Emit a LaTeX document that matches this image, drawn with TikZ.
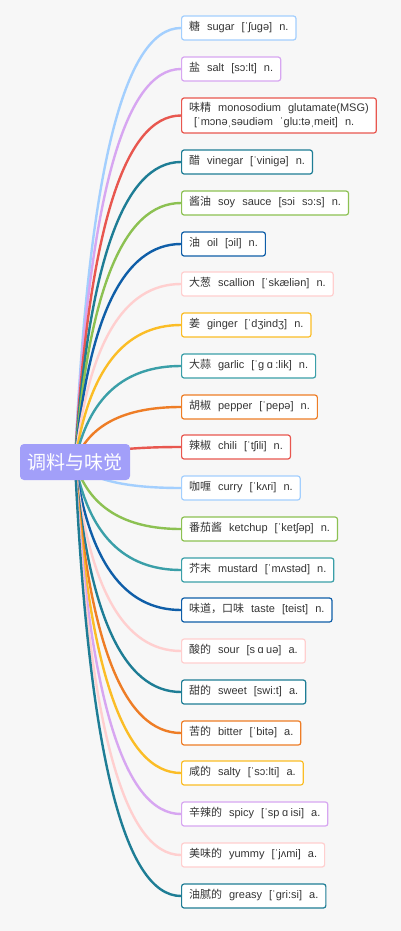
\documentclass[tikz,border=0pt]{standalone}
\usepackage{fontspec}
\setmainfont[WordSpace=2.3]{Liberation Sans}
\newfontfamily\cjk{Noto Sans CJK SC}
\usetikzlibrary{backgrounds}
\definecolor{bg}{HTML}{F7F7F7}
\definecolor{txt}{HTML}{353535}
\definecolor{rootc}{HTML}{A29FF9}
\definecolor{LB}{HTML}{A3CFFE}
\definecolor{LV}{HTML}{D7A6F1}
\definecolor{RD}{HTML}{E8574F}
\definecolor{DT}{HTML}{1E7D95}
\definecolor{GR}{HTML}{8CC152}
\definecolor{DB}{HTML}{0F5EA8}
\definecolor{PK}{HTML}{FFCFCF}
\definecolor{YL}{HTML}{FBBD26}
\definecolor{TL}{HTML}{3A9FA8}
\definecolor{OR}{HTML}{EE7D26}
\newcommand\zh[1]{{\cjk #1}}
\newcommand\gA{\hspace{2.5pt}ɑ\hspace{2.5pt}}
\tikzset{
  leaf/.style={draw=#1, fill=white, line width=1.2pt, rounded corners=2.5pt,
    anchor=west, inner xsep=7.5pt, inner ysep=0pt, minimum height=24pt,
    text height=8pt, text depth=2.5pt, font=\fontsize{11}{14}\selectfont, text=txt},
  leaftwo/.style={leaf=#1, text height=, text depth=, align=left, minimum height=35pt},
  rootbox/.style={fill=rootc, rounded corners=4pt, minimum width=110pt,
    minimum height=36pt, inner sep=0pt, text=white, font=\cjk\fontsize{19}{19}\selectfont},
  link/.style={draw=#1, line width=2.4pt},
}
\begin{document}
\begin{tikzpicture}[x=1pt,y=-1pt]
\begin{scope}[on background layer]
  \fill[bg] (0,0) rectangle (401,931);
\end{scope}
\node[rootbox] (root) at (75,462) {调料与味觉};
\node[leaf=LB] (c1) at (181,28) {\zh{糖} sugar [ˈʃugə] n.};
\node[leaf=LV] (c2) at (181,69) {\zh{盐} salt [sɔ:lt] n.};
\node[leaftwo=RD] (c3) at (181,115.5) {\zh{味精} monosodium glutamate(MSG)\\{}\hspace*{5pt}[ˈmɔnəˌsəudiəm ˈglu:təˌmeit] n.};
\node[leaf=DT] (c4) at (181,162) {\zh{醋} vinegar [ˈvinigə] n.};
\node[leaf=GR] (c5) at (181,203) {\zh{酱油} soy sauce [sɔi sɔ:s] n.};
\node[leaf=DB] (c6) at (181,244) {\zh{油} oil [ɔil] n.};
\node[leaf=PK] (c7) at (181,284) {\zh{大葱} scallion [ˈskæliən] n.};
\node[leaf=YL] (c8) at (181,325) {\zh{姜} ginger [ˈdʒindʒ] n.};
\node[leaf=TL] (c9) at (181,366) {\zh{大蒜} garlic [ˈg\gA:lik] n.};
\node[leaf=OR] (c10) at (181,407) {\zh{胡椒} pepper [ˈpepə] n.};
\node[leaf=RD] (c11) at (181,447) {\zh{辣椒} chili [ˈtʃili] n.};
\node[leaf=LB] (c12) at (181,488) {\zh{咖喱} curry [ˈkʌri] n.};
\node[leaf=GR] (c13) at (181,529) {\zh{番茄酱} ketchup [ˈketʃəp] n.};
\node[leaf=TL] (c14) at (181,570) {\zh{芥末} mustard [ˈmʌstəd] n.};
\node[leaf=DB] (c15) at (181,610) {\zh{味道，口味} taste [teist] n.};
\node[leaf=PK] (c16) at (181,651) {\zh{酸的} sour [s\gA uə] a.};
\node[leaf=DT] (c17) at (181,692) {\zh{甜的} sweet [swi:t] a.};
\node[leaf=OR] (c18) at (181,733) {\zh{苦的} bitter [ˈbitə] a.};
\node[leaf=YL] (c19) at (181,773) {\zh{咸的} salty [ˈsɔ:lti] a.};
\node[leaf=LV] (c20) at (181,814) {\zh{辛辣的} spicy [ˈsp\gA isi] a.};
\node[leaf=PK] (c21) at (181,855) {\zh{美味的} yummy [ˈjʌmi] a.};
\node[leaf=DT] (c22) at (181,896) {\zh{油腻的} greasy [ˈgri:si] a.};
\begin{scope}[on background layer]
  \foreach \n/\yy/\c in {c1/28/LB, c2/69/LV, c3/115.5/RD, c4/162/DT, c5/203/GR,
      c6/244/DB, c7/284/PK, c8/325/YL, c9/366/TL, c10/407/OR, c11/447/RD,
      c12/488/LB, c13/529/GR, c14/570/TL, c15/610/DB, c16/651/PK, c17/692/DT,
      c18/733/OR, c19/773/YL, c20/814/LV, c21/855/PK, c22/896/DT}
    \draw[link=\c] (root.center) .. controls +(13.3,{(\yy-462)*2/3}) and +(-57.3,0) .. (\n.west);
\end{scope}
\end{tikzpicture}
\end{document}
